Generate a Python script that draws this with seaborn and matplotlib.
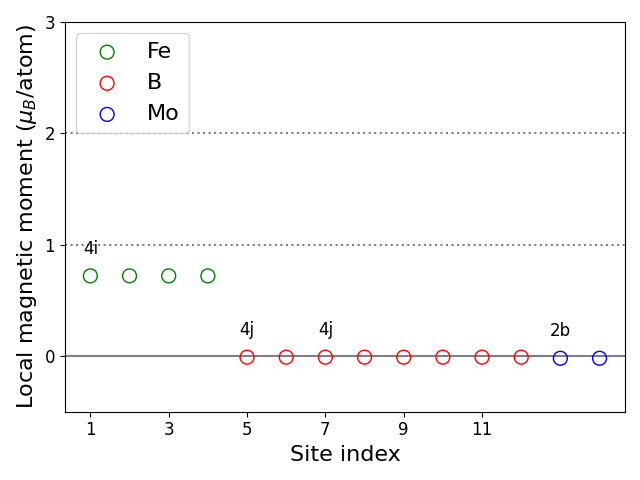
import matplotlib
matplotlib.use("Agg")
import matplotlib.pyplot as plt
import seaborn as sns
import pandas as pd

fe_sites = [1, 2, 3, 4]
fe_moments = [0.72, 0.72, 0.72, 0.72]
b_sites = [5, 6, 7, 8, 9, 10, 11, 12]
b_moments = [-0.01, -0.01, -0.01, -0.01, -0.01, -0.01, -0.01, -0.01]
mo_sites = [13, 14]
mo_moments = [-0.02, -0.02]

labels = ["4i", "4j", "4j", "2b"]
label_sites = [1, 5, 7, 13]
label_moments = [0.72, -0.01, -0.01, -0.02]

xticks = [1, 3, 5, 7, 9, 11]

fig, ax = plt.subplots(figsize=(6.4, 4.8), dpi=100)

for sites, moms, name, col in [(fe_sites, fe_moments, "Fe", "green"),
                               (b_sites, b_moments, "B", "red"),
                               (mo_sites, mo_moments, "Mo", "blue")]:
    df = pd.DataFrame({"site": sites, "m": moms})
    sns.scatterplot(data=df, x="site", y="m", ax=ax, s=100, marker="o",
                    facecolors="none", edgecolor=col, linewidth=1.0, label=name)

ax.axhline(0, color="gray", lw=1.5, zorder=0)
ax.axhline(1, color="gray", lw=1.5, ls=":", zorder=0)
ax.axhline(2, color="gray", lw=1.5, ls=":", zorder=0)

for lab, xs, ys in zip(labels, label_sites, label_moments):
    ax.text(xs, ys + 0.2, lab, fontsize=12, ha="center")

ax.set_ylim(-0.5, 3)
ax.set_yticks([0, 1, 2, 3])
ax.set_xticks(xticks)
ax.tick_params(labelsize=12)
ax.set_xlabel("Site index", fontsize=16)
ax.set_ylabel(r"Local magnetic moment ($\mu_B$/atom)", fontsize=16)
ax.legend(loc="upper left", fontsize=16)
fig.tight_layout()
fig.savefig("out.png", dpi=100)
